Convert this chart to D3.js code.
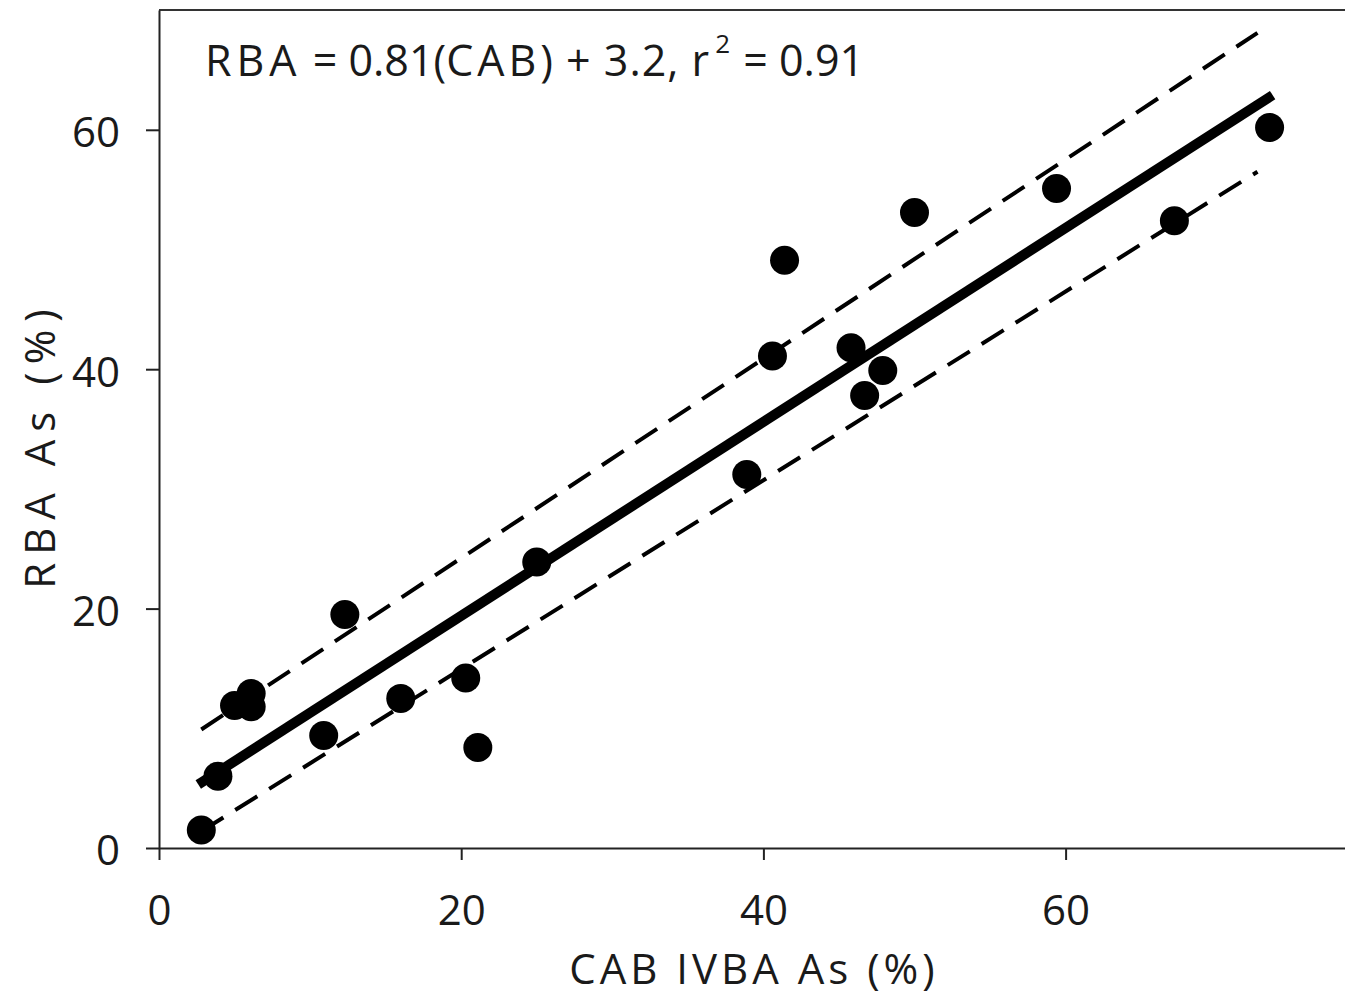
<!DOCTYPE html>
<html>
<head>
    <meta charset="utf-8">
    <title>RBA vs CAB IVBA</title>
    <style type="text/css">
        body { margin: 0; background: #fff; }
        text { font-family: 'Open Sans', 'Noto Sans', sans-serif; fill: #1a1a1a; }
    </style>
</head>
<body>
    <script src="https://d3js.org/d3.v7.min.js"></script>
    <script>
      // CAB IVBA As (%) vs RBA As (%)
      var cabIvba = [2.8, 3.9, 5.0, 6.1, 6.1, 10.9, 12.3, 16.0, 20.3, 21.1, 25.0, 38.9, 40.6, 41.4, 45.8, 46.7, 47.9, 50.0, 59.4, 67.2, 73.5];
      var rba     = [1.5, 6.0, 11.9, 12.9, 11.8, 9.4, 19.5, 12.5, 14.2, 8.4, 23.9, 31.2, 41.1, 49.1, 41.8, 37.8, 39.9, 53.1, 55.1, 52.4, 60.2];

      // regression line and its dashed bands, end points
      var fitLine   = [[2.6, 5.3], [73.7, 62.9]];
      var upperBand = [[2.8, 9.9], [72.7, 68.1]];
      var lowerBand = [[2.8, 1.4], [72.7, 56.5]];

      var xTicks = [0, 20, 40, 60];
      var yTicks = [0, 20, 40, 60];

      var width = 1345, height = 999;

      var svg = d3.select("body")
          .append("svg")
          .attr("width", width)
          .attr("height", height);

      var xScale = d3.scaleLinear().domain([0, 80]).range([159, 159 + 80 * 15.11]);
      var yScale = d3.scaleLinear().domain([0, 70]).range([848, 848 - 70 * 11.97]);

      // top frame line
      svg.append("line")
          .attr("x1", xScale(0)).attr("x2", xScale(80))
          .attr("y1", yScale(70)).attr("y2", yScale(70))
          .attr("stroke", "#333")
          .attr("stroke-width", 2);

      var xAxis = svg.append("g")
          .attr("transform", "translate(0," + yScale(0) + ")")
          .call(d3.axisBottom(xScale).tickValues(xTicks).tickSize(12).tickSizeOuter(0));

      var yAxis = svg.append("g")
          .attr("transform", "translate(" + xScale(0) + ",0)")
          .call(d3.axisLeft(yScale).tickValues(yTicks).tickSize(13).tickSizeOuter(0));

      [xAxis, yAxis].forEach(function(ax){
        ax.select(".domain").attr("stroke", "#222").attr("stroke-width", 2);
        ax.selectAll(".tick line").attr("stroke", "#222").attr("stroke-width", 2);
        ax.selectAll(".tick text")
            .attr("font-family", "'Open Sans', sans-serif")
            .attr("font-size", "42px")
            .attr("fill", "#1a1a1a");
      });
      xAxis.selectAll(".tick text").attr("y", 77).attr("dy", 0);
      yAxis.selectAll(".tick text").attr("x", -39).attr("dy", "0.4em");

      var line = d3.line()
          .x(function(d){ return xScale(d[0]); })
          .y(function(d){ return yScale(d[1]); });

      [upperBand, lowerBand].forEach(function(band){
        svg.append("path")
            .attr("d", line(band))
            .attr("fill", "none")
            .attr("stroke", "#000")
            .attr("stroke-width", 4)
            .attr("stroke-dasharray", "26,14");
      });

      svg.append("path")
          .attr("d", line(fitLine))
          .attr("fill", "none")
          .attr("stroke", "#000")
          .attr("stroke-width", 10);

      svg.selectAll(".dot")
          .data(cabIvba)
          .enter()
          .append("circle")
          .attr("class", "dot")
          .attr("cx", function(d){ return xScale(d); })
          .attr("cy", function(d, i){ return yScale(rba[i]); })
          .attr("r", 14.5)
          .attr("fill", "#000");

      // equation
      var eq = svg.append("text")
          .attr("x", 205)
          .attr("y", 76)
          .attr("font-size", "43px");
      eq.append("tspan").attr("letter-spacing", "5px").text("RBA");
      eq.append("tspan").text(" = 0.81(");
      eq.append("tspan").attr("letter-spacing", "4px").text("CAB");
      eq.append("tspan").attr("letter-spacing", "1px").text(") + 3.2, r");
      eq.append("tspan").attr("font-size", "26px").attr("dy", -23).attr("dx", 5).text("2");
      eq.append("tspan").attr("dy", 23).attr("dx", 2).text(" = 0.91");

      svg.append("text")
          .attr("x", 754)
          .attr("y", 984)
          .attr("text-anchor", "middle")
          .attr("font-size", "42px")
          .attr("letter-spacing", "4px")
          .text("CAB IVBA As (%)");

      svg.append("text")
          .attr("transform", "translate(55,445) rotate(-90)")
          .attr("text-anchor", "middle")
          .attr("font-size", "42px")
          .attr("letter-spacing", "8px")
          .text("RBA As (%)");
    </script>
</body>
</html>
